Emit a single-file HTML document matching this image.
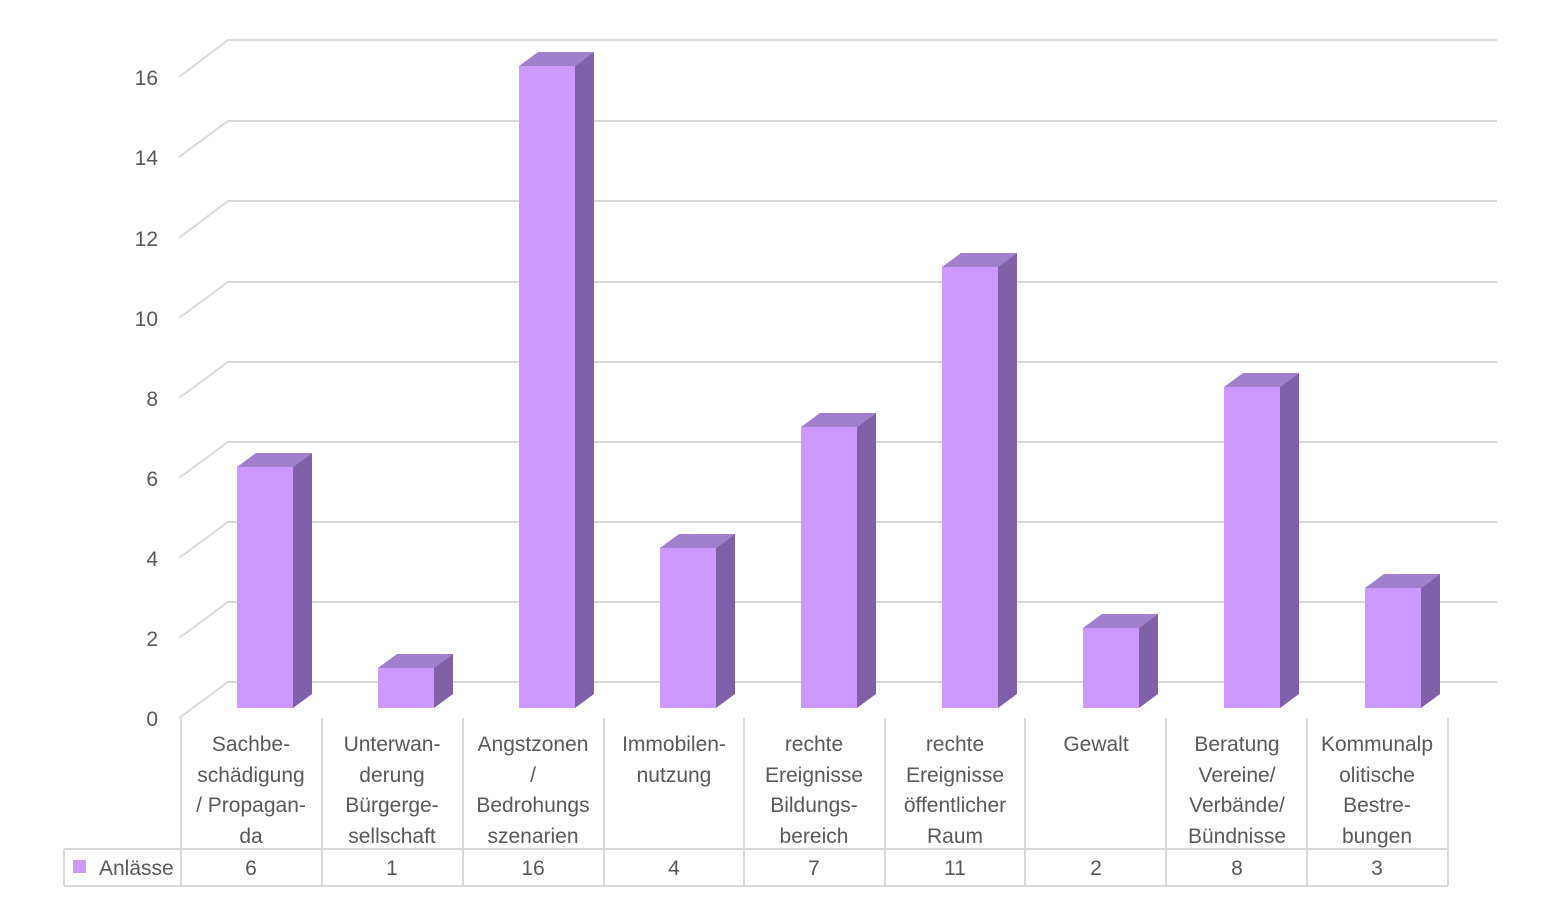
<!DOCTYPE html>
<html><head><meta charset="utf-8"><style>body{margin:0;background:#fff}svg{display:block}text{font-family:"Liberation Sans",sans-serif;fill:#595959}</style></head><body>
<svg width="1552" height="910" xmlns="http://www.w3.org/2000/svg">
<g stroke="#d9d9d9" stroke-width="2" fill="none">
<path d="M179,718 L228,682 H1497"/><path d="M179,638 L228,602 H1497"/><path d="M179,558 L228,522 H1497"/><path d="M179,478 L228,442 H1497"/><path d="M179,398 L228,362 H1497"/><path d="M179,318 L228,282 H1497"/><path d="M179,238 L228,201 H1497"/><path d="M179,157 L228,121 H1497"/><path d="M179,77 L228,40 H1497"/>
<path d="M181,718 V886 M322,718 V886 M463,718 V886 M604,718 V886 M744,718 V886 M885,718 V886 M1025,718 V886 M1166,718 V886 M1307,718 V886 M1448,718 V886"/>
<path d="M64,849 H1448 M64,886 H1448 M64,849 V886"/>
</g>
<g font-size="21" text-anchor="end">
<text x="158" y="726">0</text><text x="158" y="646">2</text><text x="158" y="566">4</text><text x="158" y="486">6</text><text x="158" y="406">8</text><text x="158" y="326">10</text><text x="158" y="246">12</text><text x="158" y="165">14</text><text x="158" y="85">16</text>
</g>
<g transform="translate(237,0)"><polygon points="0,467 19,453 75,453 56,467" fill="#a07fcc"/><polygon points="56,467 75,453 75,694 56,708" fill="#8060a8"/><rect x="0" y="467" width="56" height="241" fill="#cc99ff"/></g>
<g transform="translate(378,0)"><polygon points="0,668 19,654 75,654 56,668" fill="#a07fcc"/><polygon points="56,668 75,654 75,694 56,708" fill="#8060a8"/><rect x="0" y="668" width="56" height="40" fill="#cc99ff"/></g>
<g transform="translate(519,0)"><polygon points="0,66 19,52 75,52 56,66" fill="#a07fcc"/><polygon points="56,66 75,52 75,694 56,708" fill="#8060a8"/><rect x="0" y="66" width="56" height="642" fill="#cc99ff"/></g>
<g transform="translate(660,0)"><polygon points="0,548 19,534 75,534 56,548" fill="#a07fcc"/><polygon points="56,548 75,534 75,694 56,708" fill="#8060a8"/><rect x="0" y="548" width="56" height="160" fill="#cc99ff"/></g>
<g transform="translate(801,0)"><polygon points="0,427 19,413 75,413 56,427" fill="#a07fcc"/><polygon points="56,427 75,413 75,694 56,708" fill="#8060a8"/><rect x="0" y="427" width="56" height="281" fill="#cc99ff"/></g>
<g transform="translate(942,0)"><polygon points="0,267 19,253 75,253 56,267" fill="#a07fcc"/><polygon points="56,267 75,253 75,694 56,708" fill="#8060a8"/><rect x="0" y="267" width="56" height="441" fill="#cc99ff"/></g>
<g transform="translate(1083,0)"><polygon points="0,628 19,614 75,614 56,628" fill="#a07fcc"/><polygon points="56,628 75,614 75,694 56,708" fill="#8060a8"/><rect x="0" y="628" width="56" height="80" fill="#cc99ff"/></g>
<g transform="translate(1224,0)"><polygon points="0,387 19,373 75,373 56,387" fill="#a07fcc"/><polygon points="56,387 75,373 75,694 56,708" fill="#8060a8"/><rect x="0" y="387" width="56" height="321" fill="#cc99ff"/></g>
<g transform="translate(1365,0)"><polygon points="0,588 19,574 75,574 56,588" fill="#a07fcc"/><polygon points="56,588 75,574 75,694 56,708" fill="#8060a8"/><rect x="0" y="588" width="56" height="120" fill="#cc99ff"/></g>
<g font-size="21" text-anchor="middle">
<text x="251" y="751">Sachbe-</text><text x="251" y="782">schädigung</text><text x="251" y="812">/ Propagan-</text><text x="251" y="843">da</text>
<text x="392" y="751">Unterwan-</text><text x="392" y="782">derung</text><text x="392" y="812">Bürgerge-</text><text x="392" y="843">sellschaft</text>
<text x="533" y="751">Angstzonen</text><text x="533" y="782">/</text><text x="533" y="812">Bedrohungs</text><text x="533" y="843">szenarien</text>
<text x="674" y="751">Immobilen-</text><text x="674" y="782">nutzung</text>
<text x="814" y="751">rechte</text><text x="814" y="782">Ereignisse</text><text x="814" y="812">Bildungs-</text><text x="814" y="843">bereich</text>
<text x="955" y="751">rechte</text><text x="955" y="782">Ereignisse</text><text x="955" y="812">öffentlicher</text><text x="955" y="843">Raum</text>
<text x="1096" y="751">Gewalt</text>
<text x="1237" y="751">Beratung</text><text x="1237" y="782">Vereine/</text><text x="1237" y="812">Verbände/</text><text x="1237" y="843">Bündnisse</text>
<text x="1377" y="751">Kommunalp</text><text x="1377" y="782">olitische</text><text x="1377" y="812">Bestre-</text><text x="1377" y="843">bungen</text>
<text x="251" y="875">6</text><text x="392" y="875">1</text><text x="533" y="875">16</text><text x="674" y="875">4</text><text x="814" y="875">7</text><text x="955" y="875">11</text><text x="1096" y="875">2</text><text x="1237" y="875">8</text><text x="1377" y="875">3</text>
</g>
<rect x="73" y="860" width="13" height="13" fill="#cc99ff"/>
<text x="99" y="875" font-size="21">Anlässe</text>
</svg>
</body></html>
